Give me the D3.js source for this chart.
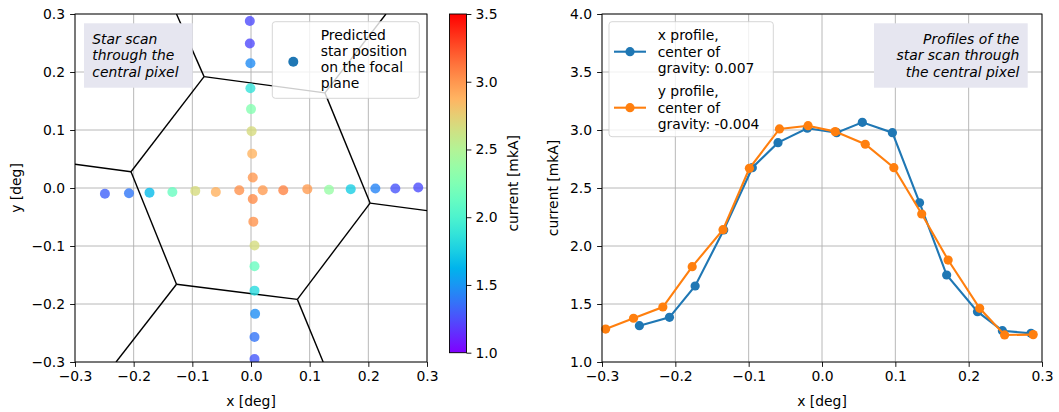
<!DOCTYPE html>
<html>
<head>
<meta charset="utf-8">
<script src="https://cdn.jsdelivr.net/npm/d3@7"></script>
<style>
  body { margin: 0; background: #fff; }
  svg { display: block; font-family: "DejaVu Sans", sans-serif; }
</style>
</head>
<body>
<div class="chart"></div>
<script>
// horizontal scan (x profile)
const rowX = [-0.249, -0.208, -0.173, -0.134, -0.095, -0.060, -0.020, 0.020, 0.055, 0.096, 0.133, 0.170, 0.212, 0.246, 0.285];
const rowY = [-0.010, -0.009, -0.008, -0.007, -0.005, -0.007, -0.004, -0.004, -0.004, -0.002, -0.003, -0.002, -0.001, -0.001, 0.001];
const rowCurrent = [1.313, 1.385, 1.655, 2.138, 2.675, 2.891, 3.015, 2.977, 3.066, 2.977, 2.373, 1.750, 1.434, 1.270, 1.247];

// vertical scan (y profile)
const colX = [0.006, 0.006, 0.007, 0.006, 0.006, 0.006, 0.004, 0.003, 0.003, 0.002, 0.001, 0.000, -0.001, -0.001, -0.002, -0.002];
const colY = [-0.295, -0.257, -0.217, -0.177, -0.135, -0.099, -0.058, -0.019, 0.018, 0.059, 0.098, 0.136, 0.172, 0.215, 0.249, 0.288];
const colCurrent = [1.284, 1.377, 1.474, 1.822, 2.141, 2.670, 3.009, 3.037, 2.986, 2.877, 2.675, 2.276, 1.879, 1.463, 1.233, 1.236];

// pixel borders on the focal plane: central hexagon + rays to the frame
const hexX = [-0.080, 0.126, 0.203, 0.079, -0.127, -0.2045];
const hexY = [0.192, 0.164, -0.026, -0.192, -0.166, 0.028];
const rayX = [-0.127, 0.230, 0.300, 0.123, -0.230, -0.300];
const rayY = [0.300, 0.300, -0.039, -0.300, -0.300, 0.041];

const xTicks = [-0.3, -0.2, -0.1, 0.0, 0.1, 0.2, 0.3];
const yTicks = [-0.3, -0.2, -0.1, 0.0, 0.1, 0.2, 0.3];
const currentTicks = [1.0, 1.5, 2.0, 2.5, 3.0, 3.5, 4.0];
const colorbarTicks = [1.0, 1.5, 2.0, 2.5, 3.0, 3.5];
const cmapRange = [1.0, 3.5];

const FONT = 13.9;
const GRID = '#b0b0b0';
const BLUE = '#1f77b4';
const ORANGE = '#ff7f0e';

// matplotlib "rainbow"
function rainbow(t) {
  t = Math.max(0, Math.min(1, t));
  const r = Math.min(1, Math.abs(2 * t - 0.5));
  const g = Math.sin(Math.PI * t);
  const b = Math.cos(Math.PI * t / 2);
  return d3.rgb(r * 255, g * 255, b * 255).formatHex();
}

const svg = d3.select('.chart')
  .append('svg')
  .attr('width', 1059)
  .attr('height', 412);

const fmt = d3.format('.1f');
const minus = s => s.replace('-', '\u2212');

function drawAxes(g, xScale, yScale, yTickVals, xLabel, yLabel, yLabelX) {
  const [x0, x1] = xScale.range();
  const [y1, y0] = yScale.range();

  // grid
  g.append('g').selectAll('line').data(xTicks).enter().append('line')
    .attr('x1', d => xScale(d)).attr('x2', d => xScale(d))
    .attr('y1', y0).attr('y2', y1)
    .style('stroke', GRID).style('stroke-width', 0.9);
  g.append('g').selectAll('line').data(yTickVals).enter().append('line')
    .attr('y1', d => yScale(d)).attr('y2', d => yScale(d))
    .attr('x1', x0).attr('x2', x1)
    .style('stroke', GRID).style('stroke-width', 0.9);

  const xAxis = g.append('g')
    .attr('transform', `translate(0, ${y1})`)
    .call(d3.axisBottom(xScale).tickValues(xTicks).tickSize(4.9).tickPadding(4).tickFormat(d => minus(fmt(d))));
  const yAxis = g.append('g')
    .attr('transform', `translate(${x0}, 0)`)
    .call(d3.axisLeft(yScale).tickValues(yTickVals).tickSize(4.9).tickPadding(5).tickFormat(d => minus(fmt(d))));
  [xAxis, yAxis].forEach(a => {
    a.select('.domain').remove();
    a.selectAll('text').style('font-size', FONT + 'px').style('fill', '#000').style('font-family', '"DejaVu Sans"');
    a.selectAll('line').style('stroke', '#000').style('stroke-width', 0.9);
  });

  g.append('text')
    .attr('x', (x0 + x1) / 2).attr('y', 406)
    .attr('text-anchor', 'middle')
    .style('font-size', FONT + 'px')
    .text(xLabel);
  g.append('text')
    .attr('transform', `translate(${yLabelX}, ${(y0 + y1) / 2}) rotate(-90)`)
    .attr('text-anchor', 'middle')
    .style('font-size', FONT + 'px')
    .text(yLabel);
}

function frame(g, x0, y0, x1, y1) {
  g.append('rect')
    .attr('x', x0).attr('y', y0)
    .attr('width', x1 - x0).attr('height', y1 - y0)
    .style('fill', 'none').style('stroke', '#000').style('stroke-width', 0.9);
}

function textBox(g, box, lines, tx, anchor) {
  g.append('rect')
    .attr('x', box[0]).attr('y', box[1])
    .attr('width', box[2] - box[0]).attr('height', box[3] - box[1])
    .style('fill', '#e6e6f0');
  lines.forEach((t, i) => {
    g.append('text')
      .attr('x', tx).attr('y', 43.5 + i * 16.6)
      .attr('text-anchor', anchor)
      .style('font-size', FONT + 'px')
      .style('font-style', 'italic')
      .text(t);
  });
}

function legendBox(g, box) {
  g.append('rect')
    .attr('x', box[0]).attr('y', box[1])
    .attr('width', box[2] - box[0]).attr('height', box[3] - box[1])
    .attr('rx', 3)
    .style('fill', '#fff').style('fill-opacity', 0.8)
    .style('stroke', '#cccccc').style('stroke-opacity', 0.8).style('stroke-width', 1);
}

// ---------- left panel ----------
function drawScan() {
  const x = d3.scaleLinear().domain([-0.3, 0.3]).range([75, 427]);
  const y = d3.scaleLinear().domain([-0.3, 0.3]).range([362, 14]);
  const g = svg.append('g');

  g.append('clipPath').attr('id', 'clipL')
    .append('rect').attr('x', 75).attr('y', 14).attr('width', 352).attr('height', 348);

  drawAxes(g, x, y, yTicks, 'x [deg]', 'y [deg]', 21);

  const plot = g.append('g').attr('clip-path', 'url(#clipL)');

  const borders = [];
  hexX.forEach((d, i) => {
    const j = (i + 1) % hexX.length;
    borders.push([[hexX[i], hexY[i]], [hexX[j], hexY[j]]]);
    borders.push([[hexX[i], hexY[i]], [rayX[i], rayY[i]]]);
  });
  plot.selectAll('.border').data(borders).enter().append('line')
    .attr('class', 'border')
    .attr('x1', d => x(d[0][0])).attr('y1', d => y(d[0][1]))
    .attr('x2', d => x(d[1][0])).attr('y2', d => y(d[1][1]))
    .style('stroke', '#000').style('stroke-width', 1.4);

  const color = v => rainbow((v - cmapRange[0]) / (cmapRange[1] - cmapRange[0]));
  const pts = rowX.map((d, i) => ({x: d, y: rowY[i], c: rowCurrent[i]}))
    .concat(colX.map((d, i) => ({x: d, y: colY[i], c: colCurrent[i]})));
  plot.selectAll('.pt').data(pts).enter().append('circle')
    .attr('class', 'pt')
    .attr('cx', d => x(d.x)).attr('cy', d => y(d.y))
    .attr('r', 5)
    .style('fill', d => color(d.c))
    .style('fill-opacity', 0.8);

  textBox(g, [84, 23.3, 192.7, 87.7], ['Star scan', 'through the', 'central pixel'], 92.3, 'start');

  legendBox(g, [272.3, 21.7, 419.3, 98.3]);
  g.append('circle').attr('cx', 293.3).attr('cy', 61.7).attr('r', 5).style('fill', BLUE);
  ['Predicted', 'star position', 'on the focal', 'plane'].forEach((t, i) => {
    g.append('text')
      .attr('x', 320.7).attr('y', 40 + i * 16.1)
      .style('font-size', FONT + 'px')
      .text(t);
  });

  frame(g, 75, 14, 427, 362);

  // colorbar
  const cb = d3.scaleLinear().domain(cmapRange).range([352.7, 14]);
  const grad = svg.append('defs').append('linearGradient')
    .attr('id', 'cmap').attr('x1', 0).attr('y1', 1).attr('x2', 0).attr('y2', 0);
  d3.range(0, 1.0001, 0.05).forEach(t => {
    grad.append('stop').attr('offset', t).attr('stop-color', rainbow(t));
  });
  g.append('rect')
    .attr('x', 449.5).attr('y', 14).attr('width', 17).attr('height', 338.7)
    .style('fill', 'url(#cmap)');
  const cbAxis = g.append('g')
    .attr('transform', 'translate(466.5, 0)')
    .call(d3.axisRight(cb).tickValues(colorbarTicks).tickSize(4.9).tickPadding(4).tickFormat(fmt));
  cbAxis.select('.domain').remove();
  cbAxis.selectAll('text').style('font-size', FONT + 'px').style('font-family', '"DejaVu Sans"').style('fill', '#000');
  cbAxis.selectAll('line').style('stroke', '#000').style('stroke-width', 0.9);
  frame(g, 449.5, 14, 466.5, 352.7);
  g.append('text')
    .attr('transform', `translate(518, ${(14 + 352.7) / 2}) rotate(-90)`)
    .attr('text-anchor', 'middle')
    .style('font-size', FONT + 'px')
    .text('current [mkA]');
}

// ---------- right panel ----------
function drawProfiles() {
  const x = d3.scaleLinear().domain([-0.3, 0.3]).range([602, 1042]);
  const y = d3.scaleLinear().domain([1.0, 4.0]).range([362, 14]);
  const g = svg.append('g');

  drawAxes(g, x, y, currentTicks, 'x [deg]', 'current [mkA]', 557.5);

  const line = d3.line().x(d => x(d[0])).y(d => y(d[1]));
  const series = [
    {pts: rowX.map((d, i) => [d, rowCurrent[i]]), color: BLUE},
    {pts: colY.map((d, i) => [d, colCurrent[i]]), color: ORANGE}
  ];
  series.forEach(s => {
    g.append('path')
      .attr('d', line(s.pts))
      .style('fill', 'none').style('stroke', s.color).style('stroke-width', 2.1);
    g.selectAll(null).data(s.pts).enter().append('circle')
      .attr('cx', d => x(d[0])).attr('cy', d => y(d[1]))
      .attr('r', 4.6)
      .style('fill', s.color);
  });

  textBox(g, [874, 23.3, 1027.7, 87.7], ['Profiles of the', 'star scan through', 'the central pixel'], 1019.3, 'end');

  legendBox(g, [609, 21.7, 773.3, 136.7]);
  const entries = [
    {lines: ['x profile,', 'center of', 'gravity: 0.007'], color: BLUE, hy: 51.7, ty: 40},
    {lines: ['y profile,', 'center of', 'gravity: -0.004'], color: ORANGE, hy: 107.7, ty: 96}
  ];
  entries.forEach(e => {
    g.append('line')
      .attr('x1', 614).attr('x2', 646).attr('y1', e.hy).attr('y2', e.hy)
      .style('stroke', e.color).style('stroke-width', 2.1);
    g.append('circle').attr('cx', 630).attr('cy', e.hy).attr('r', 4.6).style('fill', e.color);
    e.lines.forEach((t, i) => {
      g.append('text')
        .attr('x', 657.7).attr('y', e.ty + i * 16.6)
        .style('font-size', FONT + 'px')
        .text(t);
    });
  });

  frame(g, 602, 14, 1042, 362);
}

drawScan();
drawProfiles();
</script>
</body>
</html>
